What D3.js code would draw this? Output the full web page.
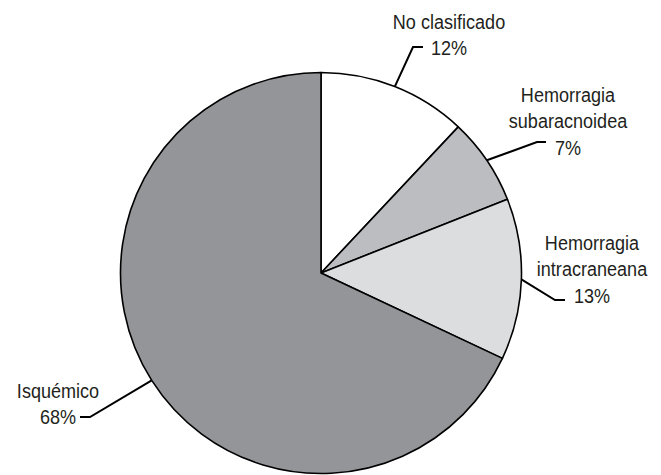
<!DOCTYPE html>
<html><head><meta charset="utf-8">
<script src="https://cdn.jsdelivr.net/npm/d3@7"></script>
<style>body{margin:0;background:#fff}svg{display:block}</style>
</head><body>
<script>
const categories = ["No clasificado", "Hemorragia subaracnoidea", "Hemorragia intracraneana", "Isquémico"];
const labelLines = [["No clasificado"], ["Hemorragia", "subaracnoidea"], ["Hemorragia", "intracraneana"], ["Isquémico"]];
const values = [12, 7, 13, 68];
const colors = ["#ffffff", "#bcbdc0", "#dcdddf", "#939598"];

// layout of label blocks (center x, first baseline y) and leader elbows
const labelLayout = [
  {x: 449, y: 29, ex: 413, ey: 47, hx: 423},
  {x: 568, y: 102, ex: 537, ey: 142, hx: 546},
  {x: 592, y: 250, ex: 555, ey: 300, hx: 565},
  {x: 58, y: 398, ex: 90, ey: 417, hx: 80}
];

const W = 661, H = 475, cx = 321, cy = 273, R = 200.5;
const svg = d3.select("body").append("svg").attr("width", W).attr("height", H);
const g = svg.append("g").attr("transform", `translate(${cx},${cy})`);

const pie = d3.pie().sort(null).value(d => d)(values);
const arc = d3.arc().innerRadius(0).outerRadius(R);

g.selectAll("path.slice").data(pie).join("path")
  .attr("class", "slice")
  .attr("d", arc)
  .attr("fill", (d, i) => colors[i])
  .attr("stroke", "#000")
  .attr("stroke-width", 1.6)
  .attr("stroke-linejoin", "round");

const font = "'Liberation Sans','Arial',sans-serif";

pie.forEach((d, i) => {
  const L = labelLayout[i];
  const a = (d.startAngle + d.endAngle) / 2;
  const px = cx + R * Math.sin(a), py = cy - R * Math.cos(a);
  svg.append("path")
    .attr("d", `M${px},${py}L${L.ex},${L.ey}L${L.hx},${L.ey}`)
    .attr("fill", "none").attr("stroke", "#000").attr("stroke-width", 2);
  const lines = labelLines[i].concat([values[i] + "%"]);
  const t = svg.append("text")
    .attr("transform", `translate(${L.x},0) scale(0.86,1)`)
    .attr("font-family", font).attr("font-size", 21)
    .attr("fill", "#231f20").attr("text-anchor", "middle");
  lines.forEach((s, k) => {
    t.append("tspan").attr("x", 0).attr("y", L.y + k * 26.3).text(s);
  });
});
</script>
</body></html>
